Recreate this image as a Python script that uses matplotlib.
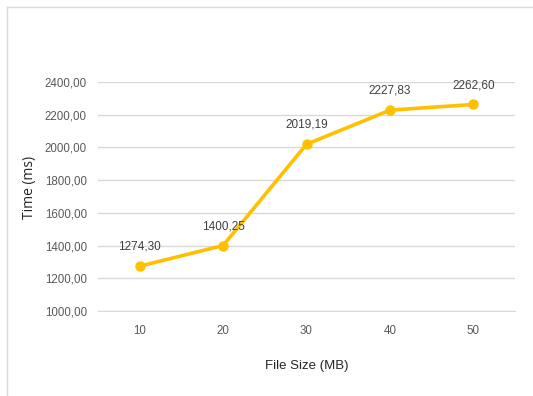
import matplotlib
matplotlib.use("Agg")
import matplotlib.pyplot as plt
from matplotlib.lines import Line2D

categories = ["10", "20", "30", "40", "50"]
values = [1274.30, 1400.25, 2019.19, 2227.83, 2262.60]
yticks = [1000, 1200, 1400, 1600, 1800, 2000, 2200, 2400]

def fmt(v):
    return f"{v:.2f}".replace(".", ",")

plt.rcParams['font.family'] = ['Liberation Sans', 'DejaVu Sans']

fig = plt.figure(figsize=(5.33, 3.96), dpi=100)
ax = fig.add_axes([98/533, 1-311/396, (515-98)/533, (311-82)/396])

x = list(range(len(categories)))
ax.plot(x, values, color="#FFC000", lw=2.6, marker="o", ms=6.5, zorder=3)
for xi, v in zip(x, values):
    ax.annotate(fmt(v), (xi, v), xytext=(0, 14), textcoords="offset points",
                ha="center", va="center", fontsize=8.5, color="#404040")

ax.set_xlim(-0.5, len(categories) - 0.5)
ax.set_ylim(yticks[0], yticks[-1])
ax.set_yticks(yticks)
ax.set_yticklabels([fmt(t) for t in yticks])
ax.set_xticks(x)
ax.set_xticklabels(categories)
ax.grid(axis="y", color="#D9D9D9", lw=1)
ax.set_axisbelow(True)
for s in ["top", "right", "left"]:
    ax.spines[s].set_visible(False)
ax.spines["bottom"].set_color("#D9D9D9")
ax.tick_params(axis="both", length=0, labelsize=8.3, colors="#595959")
ax.tick_params(axis="y", pad=8)
ax.tick_params(axis="x", pad=10)
ax.set_xlabel("File Size (MB)", fontsize=9.5, color="#262626")
ax.set_ylabel("Time (ms)", fontsize=10, color="#262626",
              family=["Open Sans", "DejaVu Sans"])
ax.xaxis.set_label_coords(0.5, (311-360)/229)
ax.yaxis.set_label_coords((37-98)/417, 0.54)

# chart frame lines (top and left)
fig.add_artist(Line2D([7/533, 7/533], [0, 1-7/396], transform=fig.transFigure, color="#D9D9D9", lw=1))
fig.add_artist(Line2D([7/533, 1], [1-7/396, 1-7/396], transform=fig.transFigure, color="#D9D9D9", lw=1))

fig.savefig("out.png", dpi=100)
